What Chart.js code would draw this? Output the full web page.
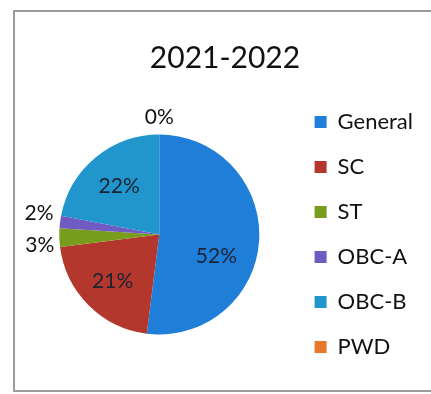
<!DOCTYPE html>
<html><head><meta charset="utf-8">
<script src="https://cdn.jsdelivr.net/npm/chart.js@4.4.0/dist/chart.umd.min.js"></script>
<style>
html,body{margin:0;padding:0;background:#fff;overflow:hidden}
#wrap{position:relative;width:431px;height:394px;background:#fff}
#frame{position:absolute;left:13px;top:10px;width:440px;height:382px;border:2px solid #9c9c9c;box-sizing:border-box}
canvas{position:absolute;left:0;top:0}
</style></head><body>
<div id="wrap"><div id="frame"></div><canvas id="c" width="431" height="394"></canvas></div>
<script>
const chartTitle = '2021-2022';
const categories = ['General', 'SC', 'ST', 'OBC-A', 'OBC-B', 'PWD'];
const shares = [52, 21, 3, 2, 22, 0];
const sliceColors = ['#1f7fd8', '#b3372c', '#789c1c', '#6f5bc2', '#2196cc', '#e5782a'];

// label placement tweaks (angle offset in degrees, radial factor / outside gap)
const labelPlace = [{da: 17, rf: 0.61}, {rf: 0.66}, {da: -3.4, out: 20}, {da: 2.7, out: 22}, {rf: 0.63}, {out: 17}];

const pieLabels = {
  id: 'pieLabels',
  afterDatasetsDraw(chart, args, opts) {
    const ctx = chart.ctx;
    const meta = chart.getDatasetMeta(0);
    const data = chart.data.datasets[0].data;
    ctx.save();
    ctx.font = opts.font;
    ctx.textAlign = 'center';
    ctx.textBaseline = 'middle';
    meta.data.forEach((arc, i) => {
      const {x, y, startAngle, endAngle, outerRadius} = arc.getProps(['x', 'y', 'startAngle', 'endAngle', 'outerRadius'], true);
      const p = opts.place[i] || {};
      const mid = (startAngle + endAngle) / 2 + (p.da || 0) * Math.PI / 180;
      const inside = data[i] >= opts.insideMin;
      const r = inside ? outerRadius * (p.rf || 0.63) : outerRadius + (p.out || 20);
      ctx.fillStyle = inside ? opts.insideColor : opts.outsideColor;
      ctx.fillText(data[i] + '%', x + Math.cos(mid) * r, y + Math.sin(mid) * r);
    });
    ctx.restore();
  }
};

new Chart(document.getElementById('c'), {
  type: 'pie',
  data: {
    labels: categories,
    datasets: [{
      data: shares,
      backgroundColor: sliceColors,
      borderWidth: 0,
      radius: 100
    }]
  },
  options: {
    responsive: false,
    animation: false,
    layout: {padding: {left: 27, right: 8, top: 0, bottom: 6}},
    plugins: {
      title: {
        display: true,
        text: chartTitle,
        color: '#111',
        font: {family: 'Lato', size: 30, weight: 'normal', lineHeight: 1.2},
        padding: {top: 40, bottom: 5}
      },
      legend: {
        position: 'right',
        fullSize: false,
        labels: {
          boxWidth: 12,
          boxHeight: 12,
          padding: 23,
          color: '#111',
          font: {family: 'Lato', size: 22}
        }
      },
      tooltip: {enabled: false},
      pieLabels: {
        font: '21px Lato',
        insideMin: 10,
        insideColor: '#1b2333',
        outsideColor: '#111',
        place: labelPlace
      }
    }
  },
  plugins: [pieLabels]
});
</script>
</body></html>
